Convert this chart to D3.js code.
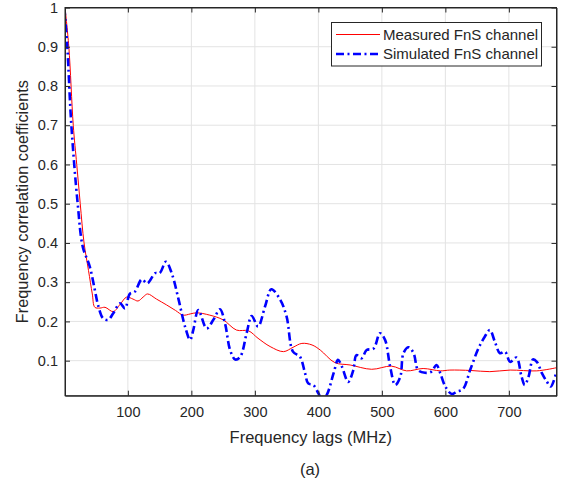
<!DOCTYPE html>
<html>
<head>
<meta charset="utf-8">
<script src="https://d3js.org/d3.v7.min.js"></script>
<style>
  body { margin: 0; background: #fff; }
  text { font-family: "Liberation Sans", Arial, sans-serif; fill: #262626; }
</style>
</head>
<body>
<div id="chart"></div>
<script>
// measured FnS channel (lag MHz, coefficient)
const measuredLag = [1, 7, 14, 19.5, 25, 31, 38, 44, 48, 56, 64, 77, 88, 98, 108, 116, 124, 131, 145, 161, 175, 187, 198, 208, 229, 250, 271, 290, 305, 324, 345, 360, 374, 390, 403, 426, 450, 484, 515, 539, 565, 592, 607, 640, 670, 702, 744, 775];
const measuredVal = [1, 0.9, 0.7, 0.6, 0.5, 0.4, 0.33, 0.27, 0.236, 0.234, 0.236, 0.225, 0.244, 0.262, 0.257, 0.252, 0.262, 0.27, 0.257, 0.242, 0.228, 0.216, 0.219, 0.222, 0.216, 0.204, 0.178, 0.176, 0.157, 0.136, 0.123, 0.134, 0.144, 0.14, 0.127, 0.095, 0.089, 0.078, 0.086, 0.074, 0.08, 0.074, 0.076, 0.075, 0.072, 0.076, 0.074, 0.082];

// simulated FnS channel
const simulatedLag = [0, 4.6, 11, 21, 29, 40, 48, 53, 61, 69, 77, 87.6, 95.5, 103, 111, 122, 130.6, 143, 150, 160, 169, 180, 190, 198, 203, 211, 224, 234.6, 245, 253, 261, 269, 277, 287, 295, 305, 316, 326, 340, 350, 360, 371, 379, 384, 392, 400, 406, 413, 424, 431, 437, 447, 455, 460, 468, 476, 487, 497, 505, 513, 521, 529, 534, 542, 550, 557, 568, 578, 586, 592, 600, 610, 618, 628, 639, 652, 662, 670, 678, 686, 694, 702, 712, 720, 725, 731, 738, 744, 752, 760, 766, 775];
const simulatedVal = [1, 0.9, 0.7, 0.5, 0.39, 0.34, 0.28, 0.242, 0.208, 0.204, 0.221, 0.246, 0.233, 0.27, 0.276, 0.307, 0.297, 0.323, 0.323, 0.352, 0.323, 0.255, 0.187, 0.153, 0.178, 0.229, 0.182, 0.204, 0.231, 0.195, 0.127, 0.103, 0.11, 0.17, 0.214, 0.187, 0.238, 0.282, 0.255, 0.212, 0.123, 0.11, 0.068, 0.042, 0.038, 0.017, 0.0, 0.012, 0.068, 0.102, 0.085, 0.046, 0.076, 0.114, 0.106, 0.127, 0.131, 0.17, 0.153, 0.085, 0.038, 0.059, 0.119, 0.134, 0.119, 0.076, 0.069, 0.072, 0.089, 0.068, 0.034, 0.015, 0.021, 0.028, 0.076, 0.131, 0.161, 0.178, 0.148, 0.119, 0.123, 0.097, 0.108, 0.059, 0.038, 0.059, 0.103, 0.097, 0.068, 0.046, 0.034, 0.072];

const xTicks = [100, 200, 300, 400, 500, 600, 700];
const yTicks = [0.1, 0.2, 0.3, 0.4, 0.5, 0.6, 0.7, 0.8, 0.9, 1];
const seriesNames = ["Measured FnS channel", "Simulated FnS channel"];

const W = 562, H = 484;
const m = { left: 65, right: 556.5, top: 7.5, bottom: 395.7 };

const svg = d3.select("#chart").append("svg")
  .attr("width", W).attr("height", H);

const x = d3.scaleLinear().domain([1, 775]).range([m.left, m.right]);
const y = d3.scaleLinear().domain([0.0107, 1]).range([m.bottom, m.top]);

// grid
svg.append("g").selectAll("line").data(xTicks).enter().append("line")
  .attr("x1", d => x(d)).attr("x2", d => x(d))
  .attr("y1", m.top).attr("y2", m.bottom)
  .attr("stroke", "#e3e3e3").attr("stroke-width", 1);
svg.append("g").selectAll("line").data(yTicks).enter().append("line")
  .attr("x1", m.left).attr("x2", m.right)
  .attr("y1", d => y(d)).attr("y2", d => y(d))
  .attr("stroke", "#e3e3e3").attr("stroke-width", 1);

// clip
svg.append("defs").append("clipPath").attr("id", "plot")
  .append("rect").attr("x", m.left).attr("y", m.top - 2)
  .attr("width", m.right - m.left).attr("height", m.bottom - m.top + 2);

const line = d3.line().x(d => x(d[0])).y(d => y(d[1])).curve(d3.curveCatmullRom.alpha(0.5));

const plot = svg.append("g").attr("clip-path", "url(#plot)");
plot.append("path")
  .datum(measuredLag.map((d, i) => [d, measuredVal[i]]))
  .attr("d", line).attr("fill", "none")
  .attr("stroke", "#ff0000").attr("stroke-width", 1);
plot.append("path")
  .datum(simulatedLag.map((d, i) => [d, simulatedVal[i]]))
  .attr("d", line).attr("fill", "none")
  .attr("stroke", "#0000ff").attr("stroke-width", 2.6)
  .attr("stroke-dasharray", "8,3.5,2,3.5");

// axes (box with inward ticks)
const axX = svg.append("g").attr("transform", `translate(0,${m.bottom})`)
  .call(d3.axisBottom(x).tickValues(xTicks).tickSizeInner(-5).tickSizeOuter(0).tickPadding(11));
const axXt = svg.append("g").attr("transform", `translate(0,${m.top})`)
  .call(d3.axisTop(x).tickValues(xTicks).tickSizeInner(-5).tickSizeOuter(0).tickFormat(""));
const axY = svg.append("g").attr("transform", `translate(${m.left},0)`)
  .call(d3.axisLeft(y).tickValues(yTicks).tickSizeInner(-5).tickSizeOuter(0).tickPadding(7)
    .tickFormat(d => d === 1 ? "1" : d3.format(".1f")(d)));
const axYr = svg.append("g").attr("transform", `translate(${m.right},0)`)
  .call(d3.axisRight(y).tickValues(yTicks).tickSizeInner(-5).tickSizeOuter(0).tickFormat(""));

[axX, axXt, axY, axYr].forEach(a => {
  a.select(".domain").attr("stroke", "#262626");
  a.selectAll(".tick line").attr("stroke", "#262626");
  a.selectAll("text").style("font-size", "14.5px").attr("fill", "#262626")
    .style("font-family", "'Liberation Sans', Arial, sans-serif");
});
// full box edges
svg.append("rect").attr("x", m.left).attr("y", m.top)
  .attr("width", m.right - m.left).attr("height", m.bottom - m.top)
  .attr("fill", "none").attr("stroke", "#262626").attr("stroke-width", 1);

// labels
svg.append("text").attr("x", (m.left + m.right) / 2).attr("y", 443)
  .attr("text-anchor", "middle").style("font-size", "16.5px").text("Frequency lags (MHz)");
svg.append("text").attr("transform", `translate(28,${(m.top + m.bottom) / 2}) rotate(-90)`)
  .attr("text-anchor", "middle").style("font-size", "16.3px").text("Frequency correlation coefficients");
svg.append("text").attr("x", 310).attr("y", 475)
  .attr("text-anchor", "middle").style("font-size", "16.5px").text("(a)");

// legend
const lg = svg.append("g");
lg.append("rect").attr("x", 331.5).attr("y", 22.5).attr("width", 210).attr("height", 43.5)
  .attr("fill", "#fff").attr("stroke", "#262626").attr("stroke-width", 1);
const rows = [
  { stroke: "#ff0000", w: 1, dash: null },
  { stroke: "#0000ff", w: 2.6, dash: "8,3.5,2,3.5" }
];
rows.forEach((r, i) => {
  const yy = 34.5 + i * 19.5;
  lg.append("line").attr("x1", 336).attr("x2", 380).attr("y1", yy).attr("y2", yy)
    .attr("stroke", r.stroke).attr("stroke-width", r.w)
    .attr("stroke-dasharray", r.dash);
  lg.append("text").attr("x", 383).attr("y", yy + 5)
    .style("font-size", "15px").text(seriesNames[i]);
});
</script>
</body>
</html>
